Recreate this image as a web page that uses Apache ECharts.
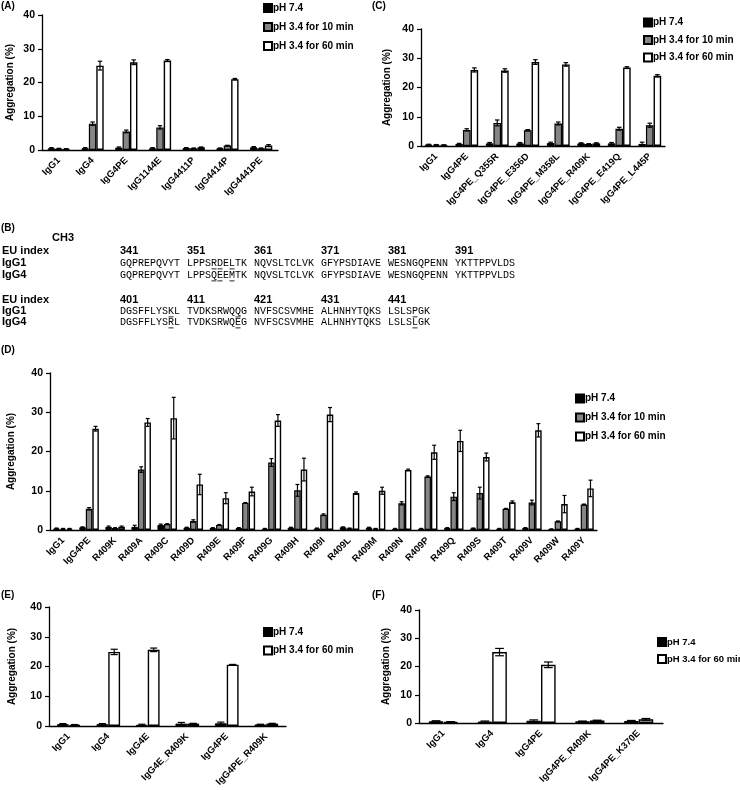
<!DOCTYPE html>
<html><head><meta charset="utf-8">
<script src="https://cdn.jsdelivr.net/npm/echarts@6/dist/echarts.min.js"></script>
<style>html,body{margin:0;padding:0;background:#fff}#c{width:740px;height:790px}</style>
</head><body><div id="c"></div>
<script>
// ---------------- DATA ----------------
const seriesNames = ['pH 7.4', 'pH 3.4 for 10 min', 'pH 3.4 for 60 min'];
const yTicks = [0, 10, 20, 30, 40];

// Panel A
const aCats = ['IgG1','IgG4','IgG4PE','IgG1144E','IgG4411P','IgG4414P','IgG4441PE'];
const a74 = [0.5,0.5,0.7,0.5,0.6,0.5,0.8];
const a74Err = [0.2,0.2,0.2,0.2,0.1,0.1,0.2];
const a10 = [0.4,7.8,5.5,6.7,0.5,1.3,0.5];
const a10Err = [0.1,0.5,0.4,0.5,0.1,0.1,0.1];
const a60 = [0.3,25.0,26.0,26.5,0.8,21.0,1.3];
const a60Err = [0.1,1.3,0.7,0.3,0.1,0.2,0.3];

// Panel C
const cCats = ['IgG1','IgG4PE','IgG4PE_Q355R','IgG4PE_E356D','IgG4PE_M358L','IgG4PE_R409K','IgG4PE_E419Q','IgG4PE_L445P'];
const c74 = [0.5,0.7,0.9,0.9,1.0,0.9,0.9,0.7];
const c74Err = [0.1,0.2,0.3,0.3,0.3,0.2,0.3,0.6];
const c10 = [0.4,5.5,7.9,5.4,7.7,0.7,5.9,7.1];
const c10Err = [0.1,0.4,1.0,0.2,0.5,0.1,0.5,0.7];
const c60 = [0.3,26.0,25.8,28.7,27.9,0.9,26.8,24.0];
const c60Err = [0.1,0.7,0.6,0.8,0.6,0.2,0.3,0.4];

// Panel D
const dCats = ['IgG1','IgG4PE','R409K','R409A','R409C','R409D','R409E','R409F','R409G','R409H','R409I','R409L','R409M','R409N','R409P','R409Q','R409S','R409T','R409V','R409W','R409Y'];
const d74 = [0.4,0.7,0.8,0.8,1.3,0.6,0.5,0.5,0.3,0.6,0.4,0.7,0.6,0.3,0.3,0.5,0.4,0.3,0.5,0.2,0.3];
const d74Err = [0.1,0.1,0.2,0.4,0.2,0.1,0.1,0.1,0.1,0.1,0.1,0.1,0.1,0.1,0.1,0.1,0.1,0.1,0.1,0.1,0.1];
const d10 = [0.3,5.4,0.5,15.4,1.5,2.3,1.3,6.9,17.2,10.1,3.9,0.4,0.3,6.8,13.6,8.5,9.4,5.4,7.0,2.2,6.5];
const d10Err = [0.1,0.3,0.1,0.7,0.1,0.3,0.1,0.1,1.0,1.5,0.2,0.1,0.1,0.4,0.2,1.0,1.5,0.1,0.6,0.1,0.1];
const d60 = [0.3,25.8,0.8,27.4,28.5,11.6,8.1,9.8,27.9,15.4,29.4,9.4,10.0,15.3,19.8,22.7,18.6,7.1,25.4,6.6,10.6];
const d60Err = [0.1,0.6,0.2,1.0,5.3,2.6,1.4,1.1,1.5,2.9,1.8,0.3,0.9,0.2,1.8,2.7,1.0,0.3,1.7,2.2,2.1];

// Panel E
const eCats = ['IgG1','IgG4','IgG4E','IgG4E_R409K','IgG4PE','IgG4PE_R409K'];
const e74 = [0.6,0.6,0.4,0.8,0.9,0.5];
const e74Err = [0.2,0.2,0.2,0.4,0.4,0.1];
const e60 = [0.4,24.9,25.6,0.8,20.6,0.8];
const e60Err = [0.1,0.9,0.6,0.1,0.1,0.1];

// Panel F
const fCats = ['IgG1','IgG4','IgG4PE','IgG4PE_R409K','IgG4PE_K370E'];
const f74 = [0.6,0.5,0.8,0.6,0.7];
const f74Err = [0.2,0.2,0.3,0.1,0.2];
const f60 = [0.4,25.1,20.6,0.9,1.3];
const f60Err = [0.1,1.3,1.0,0.1,0.3];

// Panel B (sequence alignment)
const euStart1 = ['341','351','361','371','381','391'];
const igg1Seq1 = ['GQPREPQVYT','LPPSRDELTK','NQVSLTCLVK','GFYPSDIAVE','WESNGQPENN','YKTTPPVLDS'];
const igg4Seq1 = ['GQPREPQVYT','LPPSQEEMTK','NQVSLTCLVK','GFYPSDIAVE','WESNGQPENN','YKTTPPVLDS'];
const euStart2 = ['401','411','421','431','441'];
const igg1Seq2 = ['DGSFFLYSKL','TVDKSRWQQG','NVFSCSVMHE','ALHNHYTQKS','LSLSPGK'];
const igg4Seq2 = ['DGSFFLYSRL','TVDKSRWQEG','NVFSCSVMHE','ALHNHYTQKS','LSLSLGK'];
const marked1 = [355, 356, 358];
const marked2 = [409, 419, 445];

// ---------------- CHART ----------------
const SANS = '"Liberation Sans", Arial, sans-serif';
const MONO = '"Liberation Mono", "DejaVu Sans Mono", monospace';
const STYLE = {
  'pH 7.4': {color:'#000', borderColor:'#000', borderWidth:1},
  'pH 3.4 for 10 min': {color:'#858585', borderColor:'#000', borderWidth:1.2},
  'pH 3.4 for 60 min': {color:'#fff', borderColor:'#000', borderWidth:1.4}
};
const grids=[], xAxes=[], yAxes=[], series=[], legends=[], graphics=[];

function makeErr(k, n, pct){
  return function(params, api){
    const cat = api.value(0), v = api.value(1), e = api.value(2);
    const band = api.size([1,0])[0];
    const bw = band*pct;
    const off = bw*(k-(n-1)/2);
    const top = api.coord([cat, v+e]);
    const bot = api.coord([cat, Math.max(0, v-e)]);
    const x = top[0]+off;
    const h = Math.max(1.8, bw*0.3);
    const ls = {stroke:'#000', lineWidth:1.2};
    return {type:'group', children:[
      {type:'line', shape:{x1:x,y1:top[1],x2:x,y2:bot[1]}, style:ls},
      {type:'line', shape:{x1:x-h,y1:top[1],x2:x+h,y2:top[1]}, style:ls},
      {type:'line', shape:{x1:x-h,y1:bot[1],x2:x+h,y2:bot[1]}, style:ls}
    ]};
  };
}

function addPanel(p){
  const gi = grids.length;
  grids.push({left:p.left, top:p.top, width:p.width, height:p.height, outerBoundsMode:'none', containLabel:false});
  xAxes.push({type:'category', gridIndex:gi, data:p.cats,
    axisLine:{lineStyle:{color:'#000',width:1.3}}, axisTick:{show:false},
    axisLabel:{rotate:45, interval:0, color:'#000', fontFamily:SANS, fontWeight:'bold', fontSize:9.5, margin:9, hideOverlap:false},
    splitLine:{show:false}});
  yAxes.push({type:'value', gridIndex:gi, min:yTicks[0], max:yTicks[yTicks.length-1], interval:yTicks[1]-yTicks[0],
    name:'Aggregation (%)', nameLocation:'middle', nameGap:p.nameGap,
    nameTextStyle:{color:'#000', fontFamily:SANS, fontWeight:'bold', fontSize:10},
    axisLine:{show:true, lineStyle:{color:'#000',width:1.3}},
    axisTick:{show:true, length:4, lineStyle:{color:'#000', width:1.2}},
    splitLine:{show:false},
    axisLabel:{color:'#000', fontFamily:SANS, fontWeight:'bold', fontSize:10.5, margin:7}});
  const n = p.series.length;
  p.series.forEach((s)=>{
    series.push({type:'bar', name:s.name, xAxisIndex:gi, yAxisIndex:gi, data:s.values,
      barWidth:(p.barPct*100)+'%', barGap:'0%', itemStyle:STYLE[s.name],
      emphasis:{disabled:true}, animation:false, z:2});
  });
  p.series.forEach((s,k)=>{
    series.push({type:'custom', name:'err'+gi+'_'+k, xAxisIndex:gi, yAxisIndex:gi,
      data:s.values.map((v,i)=>[i,v,s.errs[i]]), encode:{x:0,y:1}, z:5, silent:true,
      animation:false, renderItem:makeErr(k,n,p.barPct)});
  });
  legends.push({data:p.series.map(s=>s.name), orient:'vertical', left:p.legLeft, top:p.legTop,
    itemWidth:8, itemHeight:8, itemGap:p.legGap, icon:'rect', selectedMode:false,
    padding:0,
    textStyle:{color:'#000', fontFamily:SANS, fontWeight:'bold', fontSize:p.legFont||10, padding:[0,0,0,-4], lineHeight:12}});
}

addPanel({cats:aCats, left:42, top:15, width:236, height:135, nameGap:27, barPct:0.22,
  legLeft:263, legTop:2, legGap:7,
  series:[{name:seriesNames[0], values:a74, errs:a74Err},{name:seriesNames[1], values:a10, errs:a10Err},{name:seriesNames[2], values:a60, errs:a60Err}]});
addPanel({cats:cCats, left:421, top:29, width:244, height:117, nameGap:29, barPct:0.25,
  legLeft:643, legTop:16.5, legGap:5.5,
  series:[{name:seriesNames[0], values:c74, errs:c74Err},{name:seriesNames[1], values:c10, errs:c10Err},{name:seriesNames[2], values:c60, errs:c60Err}]});
addPanel({cats:dCats, left:50, top:373, width:547, height:157, nameGap:34, barPct:0.25,
  legLeft:575, legTop:392.5, legGap:7,
  series:[{name:seriesNames[0], values:d74, errs:d74Err},{name:seriesNames[1], values:d10, errs:d10Err},{name:seriesNames[2], values:d60, errs:d60Err}]});
addPanel({cats:eCats, left:49, top:607, width:237, height:119, nameGap:32, barPct:0.3,
  legLeft:263, legTop:626, legGap:6.5,
  series:[{name:seriesNames[0], values:e74, errs:e74Err},{name:seriesNames[2], values:e60, errs:e60Err}]});
addPanel({cats:fCats, left:419, top:610, width:244, height:113, nameGap:28, barPct:0.3,
  legLeft:657, legTop:636, legGap:5, legFont:9.5,
  series:[{name:seriesNames[0], values:f74, errs:f74Err},{name:seriesNames[2], values:f60, errs:f60Err}]});

// Text helpers
function txt(str, x, y, size, weight, family){
  graphics.push({type:'text', x:x, y:y, silent:true,
    style:{text:str, fill:'#000', fontSize:size, fontWeight:weight||'bold', fontFamily:family||SANS, verticalAlign:'middle', align:'left'}});
}
txt('(A)', 1, 6, 10); txt('(C)', 372, 6, 10); txt('(B)', 1, 228, 10);
txt('(D)', 1, 350, 10); txt('(E)', 1, 595, 10); txt('(F)', 372, 595, 10);
txt('CH3', 52, 238, 11);

const seqX0 = 120, blockStep = 67, charW = 6.0;
function seqBlock(yEU, yG1, yG4, starts, s1, s4, marks){
  txt('EU index', 2, yEU, 11); txt('IgG1', 2, yG1, 11); txt('IgG4', 2, yG4, 11);
  starts.forEach((s,i)=> txt(s, seqX0 + i*blockStep, yEU, 11));
  s1.forEach((s,i)=> txt(s, seqX0 + i*blockStep, yG1, 10, 'normal', MONO));
  s4.forEach((s,i)=> txt(s, seqX0 + i*blockStep, yG4, 10, 'normal', MONO));
  const base = parseInt(starts[0],10);
  marks.forEach(m=>{
    const off = m - base, b = Math.floor(off/10), c = off%10;
    const x = seqX0 + b*blockStep + c*charW;
    [yG1, yG4].forEach(y=>{
      graphics.push({type:'rect', silent:true, shape:{x:x+0.5, y:y+5, width:charW-1, height:1.6}, style:{fill:'#777'}});
    });
  });
}
seqBlock(251, 263, 275, euStart1, igg1Seq1, igg4Seq1, marked1);
seqBlock(300, 311, 322, euStart2, igg1Seq2, igg4Seq2, marked2);

const chart = echarts.init(document.getElementById('c'), null, {renderer:'canvas'});
chart.setOption({
  animation:false,
  backgroundColor:'#fff',
  grid:grids, xAxis:xAxes, yAxis:yAxes, series:series, legend:legends,
  graphic:{elements:graphics}
});
</script>
</body></html>
